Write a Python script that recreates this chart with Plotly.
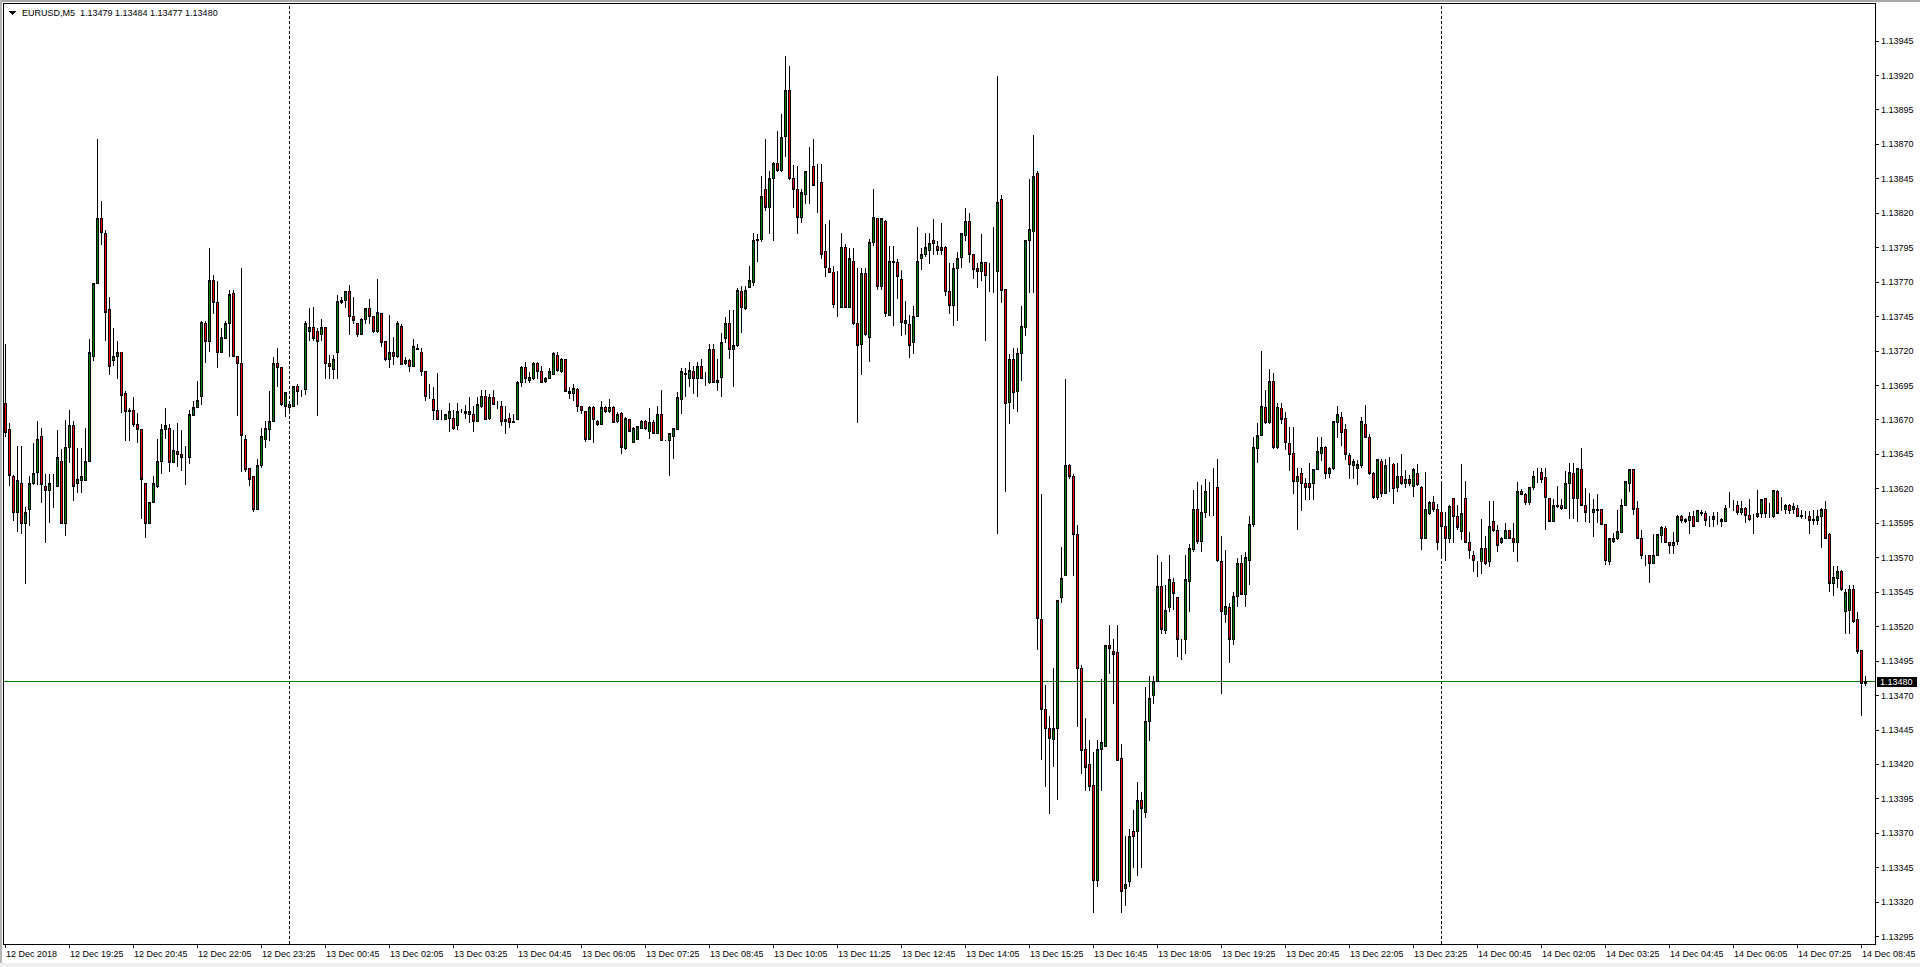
import plotly.graph_objects as go

# ---------------- data (prices in points, 1 point = 0.00001) ----------------
open_pts = [
113682,113663,113629,113603,113624,113595,113605,113624,113632,113658,
113622,113619,113622,113622,113640,113595,113650,113666,113624,113626,
113626,113640,113716,113769,113816,113805,113750,113713,113716,113719,
113689,113677,113677,113667,113663,113624,113595,113610,113622,113640,
113663,113664,113639,113647,113645,113643,113643,113673,113679,113687,
113740,113727,113771,113755,113719,113729,113740,113762,113716,113711,
113656,113635,113629,113605,113637,113656,113663,113669,113711,113708,
113680,113679,113680,113694,113690,113692,113734,113737,113734,113732,
113737,113711,113707,113719,113755,113757,113763,113745,113740,113732,
113743,113751,113745,113734,113747,113727,113714,113719,113716,113738,
113711,113713,113709,113722,113719,113705,113687,113685,113677,113671,
113670,113671,113671,113666,113676,113675,113674,113674,113669,113680,
113687,113671,113686,113680,113680,113669,113671,113668,113670,113697,
113708,113699,113700,113711,113705,113698,113700,113703,113717,113705,
113714,113691,113689,113692,113680,113676,113656,113679,113669,113667,
113679,113676,113679,113669,113675,113649,113670,113654,113656,113664,
113669,113662,113668,113660,113674,113655,113655,113658,113663,113685,
113703,113700,113705,113700,113709,113700,113697,113721,113697,113701,
113729,113740,113721,113724,113763,113751,113766,113770,113800,113801,
113837,113824,113845,113856,113851,113876,113909,113845,113837,113817,
113834,113854,113854,113840,113842,113792,113780,113777,113753,113752,
113795,113752,113785,113740,113725,113776,113730,113799,113816,113767,
113814,113746,113785,113784,113772,113740,113739,113726,113745,113787,
113790,113793,113800,113796,113795,113795,113763,113753,113780,113788,
113804,113814,113790,113780,113778,113784,113777,113778,113778,113830,
113765,113683,113714,113691,113718,113737,113800,113807,113849,113525,
113460,113446,113438,113446,113541,113557,113637,113629,113587,113490,
113431,113420,113405,113336,113431,113433,113506,113502,113501,113424,
113330,113335,113371,113371,113394,113385,113451,113470,113480,113549,
113517,113534,113552,113541,113511,113511,113553,113576,113605,113582,
113603,113619,113621,113621,113567,113529,113534,113511,113542,113566,
113543,113568,113594,113649,113659,113679,113668,113698,113650,113678,
113671,113653,113646,113625,113631,113624,113624,113624,113634,113646,
113650,113631,113635,113668,113672,113663,113644,113637,113635,113637,
113667,113657,113631,113614,113640,113617,113639,113638,113621,113629,
113624,113627,113622,113631,113621,113584,113602,113610,113605,113603,
113593,113584,113613,113600,113589,113613,113581,113572,113567,113567,
113577,113567,113596,113590,113581,113584,113590,113584,113581,113618,
113616,113610,113621,113632,113632,113628,113613,113596,113607,113608,
113606,113624,113631,113613,113634,113608,113604,113603,113605,113605,
113594,113567,113582,113584,113588,113608,113624,113634,113606,113584,
113572,113572,113566,113572,113586,113591,113581,113579,113582,113600,
113596,113597,113600,113596,113602,113602,113598,113598,113598,113598,
113596,113608,113608,113608,113603,113606,113601,113600,113600,113602,
113613,113601,113600,113618,113605,113605,113608,113605,113606,113601,
113599,113600,113597,113597,113600,113605,113587,113551,113555,113560,
113531,113532,113547,113525,113503,113479]

high_pts = [
113725,113668,113630,113651,113651,113607,113629,113653,113669,113664,
113631,113631,113631,113663,113649,113670,113677,113669,113650,113650,
113664,113729,113769,113874,113829,113808,113759,113737,113727,113719,
113691,113679,113687,113675,113663,113624,113610,113629,113656,113667,
113679,113667,113663,113668,113663,113651,113677,113684,113698,113742,
113742,113795,113775,113771,113737,113742,113764,113764,113716,113780,
113659,113635,113629,113642,113664,113669,113691,113716,113722,113708,
113690,113681,113695,113696,113692,113742,113751,113752,113737,113743,
113737,113717,113717,113761,113759,113763,113768,113759,113740,113744,
113751,113758,113745,113772,113748,113727,113746,113730,113742,113740,
113716,113714,113729,113725,113722,113705,113696,113694,113704,113677,
113674,113682,113677,113682,113678,113681,113687,113680,113687,113692,
113692,113689,113692,113684,113684,113680,113675,113674,113698,113709,
113712,113705,113712,113712,113709,113701,113708,113719,113719,113715,
113714,113694,113696,113693,113680,113676,113680,113680,113670,113684,
113680,113685,113680,113676,113676,113672,113671,113665,113666,113670,
113670,113679,113670,113680,113692,113655,113660,113664,113690,113708,
113708,113712,113709,113712,113714,113705,113725,113725,113714,113733,
113745,113750,113750,113766,113767,113767,113782,113806,113805,113847,
113874,113851,113857,113880,113892,113934,113927,113855,113854,113838,
113851,113868,113874,113856,113856,113812,113815,113782,113778,113806,
113798,113795,113795,113780,113780,113780,113801,113838,113816,113816,
113815,113796,113796,113787,113779,113756,113746,113753,113810,113795,
113806,113806,113816,113800,113813,113796,113784,113784,113792,113806,
113824,113820,113790,113784,113805,113784,113784,113810,113920,113833,
113765,113718,113722,113722,113753,113800,113845,113877,113851,113616,
113478,113455,113490,113539,113578,113700,113638,113631,113594,113492,
113454,113438,113429,113438,113482,113506,113521,113511,113521,113435,
113368,113373,113387,113407,113400,113476,113484,113484,113572,113567,
113550,113572,113555,113541,113511,113572,113580,113619,113625,113623,
113627,113625,113635,113642,113586,113576,113537,113545,113570,113572,
113574,113600,113658,113668,113720,113692,113707,113704,113682,113682,
113676,113665,113665,113635,113635,113628,113639,113634,113658,113658,
113651,113636,113669,113680,113676,113667,113646,113642,113641,113672,
113681,113660,113632,113642,113642,113642,113643,113639,113639,113645,
113634,113630,113635,113638,113622,113632,113611,113615,113609,113624,
113603,113608,113613,113608,113638,113626,113589,113575,113568,113598,
113586,113611,113611,113594,113585,113595,113590,113595,113625,113620,
113617,113621,113633,113635,113635,113635,113613,113613,113622,113613,
113633,113639,113639,113635,113650,113621,113617,113613,113616,113605,
113594,113584,113588,113605,113613,113626,113634,113634,113611,113590,
113572,113572,113587,113587,113593,113593,113581,113589,113601,113601,
113599,113603,113604,113605,113605,113604,113600,113603,113603,113599,
113608,113618,113612,113611,113611,113607,113613,113602,113619,113613,
113613,113610,113619,113619,113614,113609,113609,113610,113608,113605,
113604,113604,113605,113605,113606,113611,113588,113564,113564,113561,
113547,113550,113550,113531,113503,113484]

low_pts = [
113658,113622,113597,113589,113587,113551,113593,113623,113623,113610,
113581,113595,113606,113622,113595,113586,113639,113611,113617,113617,
113626,113640,113713,113769,113797,113727,113703,113709,113700,113675,
113655,113655,113665,113653,113598,113584,113595,113610,113621,113631,
113656,113632,113639,113636,113633,113623,113638,113673,113679,113681,
113711,113719,113747,113708,113719,113729,113716,113716,113673,113632,
113632,113622,113603,113605,113635,113650,113655,113669,113694,113680,
113672,113674,113680,113681,113687,113688,113727,113727,113673,113727,
113700,113700,113700,113700,113754,113751,113732,113740,113730,113732,
113740,113740,113733,113733,113723,113713,113708,113710,113715,113710,
113710,113705,113709,113721,113702,113684,113685,113670,113670,113670,
113670,113661,113663,113663,113675,113671,113668,113661,113669,113679,
113670,113670,113681,113678,113666,113660,113664,113668,113670,113694,
113697,113697,113699,113700,113697,113697,113700,113703,113705,113704,
113690,113685,113684,113676,113674,113654,113656,113653,113666,113667,
113675,113675,113668,113668,113645,113648,113661,113653,113656,113664,
113663,113656,113660,113660,113655,113655,113629,113642,113663,113674,
113687,113694,113689,113687,113700,113695,113696,113697,113691,113687,
113726,113714,113694,113723,113733,113750,113766,113767,113785,113799,
113822,113805,113800,113850,113850,113861,113844,113824,113805,113813,
113827,113827,113840,113820,113787,113774,113777,113751,113745,113751,
113751,113752,113739,113668,113703,113731,113712,113796,113764,113764,
113745,113746,113738,113758,113731,113732,113715,113718,113745,113779,
113788,113783,113790,113790,113790,113760,113747,113738,113742,113780,
113800,113784,113772,113766,113771,113727,113763,113762,113587,113755,
113618,113667,113678,113676,113698,113731,113762,113762,113503,113423,
113404,113384,113418,113394,113537,113557,113627,113557,113447,113413,
113401,113401,113312,113331,113401,113433,113486,113464,113423,113312,
113317,113331,113345,113339,113345,113381,113437,113464,113480,113515,
113515,113531,113532,113498,113496,113500,113531,113574,113580,113574,
113599,113600,113600,113567,113471,113523,113494,113507,113534,113543,
113534,113550,113592,113639,113659,113667,113667,113649,113649,113667,
113648,113633,113616,113590,113604,113612,113612,113612,113634,113640,
113627,113628,113634,113657,113651,113641,113627,113627,113623,113635,
113657,113630,113613,113612,113614,113616,113618,113609,113618,113623,
113621,113622,113614,113622,113576,113584,113601,113603,113576,113570,
113568,113581,113581,113590,113583,113581,113569,113560,113556,113558,
113565,113563,113589,113574,113580,113584,113584,113574,113567,113616,
113608,113608,113619,113624,113624,113590,113596,113596,113606,113605,
113606,113598,113598,113596,113608,113596,113595,113585,113595,113594,
113565,113565,113581,113583,113588,113608,113618,113601,113584,113569,
113564,113552,113566,113571,113581,113581,113573,113573,113579,113595,
113595,113587,113592,113596,113600,113593,113592,113592,113594,113592,
113596,113606,113604,113601,113601,113595,113597,113587,113599,113599,
113599,113599,113599,113602,113604,113602,113602,113602,113600,113598,
113598,113587,113594,113594,113577,113584,113545,113542,113548,113546,
113515,113515,113523,113500,113455,113477]

close_pts = [
113661,113630,113603,113626,113595,113603,113624,113631,113656,113623,
113619,113624,113622,113643,113595,113650,113666,113622,113627,113629,
113640,113719,113769,113816,113806,113748,113709,113716,113719,113688,
113676,113676,113667,113663,113627,113595,113610,113624,113640,113663,
113666,113639,113648,113645,113643,113643,113674,113679,113684,113741,
113727,113771,113755,113719,113730,113740,113761,113716,113711,113659,
113634,113627,113605,113637,113658,113664,113669,113711,113708,113681,
113690,113681,113694,113691,113690,113740,113737,113729,113727,113737,
113711,113709,113714,113756,113757,113763,113745,113742,113732,113743,
113751,113745,113734,113748,113726,113714,113719,113716,113740,113710,
113713,113709,113723,113721,113705,113687,113687,113677,113670,113671,
113674,113676,113664,113676,113676,113676,113676,113669,113681,113687,
113670,113686,113681,113680,113669,113670,113668,113669,113697,113708,
113700,113701,113711,113705,113697,113700,113705,113718,113706,113714,
113691,113689,113693,113680,113677,113656,113679,113670,113667,113679,
113676,113679,113668,113674,113650,113671,113662,113664,113665,113669,
113664,113668,113660,113674,113655,113655,113660,113664,113686,113705,
113704,113706,113700,113709,113700,113700,113721,113697,113699,113726,
113740,113721,113724,113764,113752,113764,113771,113800,113801,113832,
113824,113845,113856,113851,113875,113909,113845,113837,113817,113835,
113850,113854,113840,113840,113790,113781,113777,113754,113753,113795,
113752,113787,113740,113724,113776,113732,113799,113817,113767,113816,
113747,113785,113784,113774,113741,113742,113724,113745,113785,113790,
113795,113798,113798,113793,113793,113763,113753,113780,113787,113805,
113814,113790,113779,113778,113784,113775,113777,113778,113828,113764,
113682,113714,113690,113718,113738,113800,113808,113847,113526,113460,
113446,113439,113446,113539,113555,113637,113629,113587,113490,113430,
113418,113404,113336,113431,113436,113506,113504,113500,113423,113328,
113333,113368,113368,113394,113388,113451,113468,113480,113549,113518,
113532,113554,113544,113511,113511,113554,113577,113605,113582,113603,
113618,113619,113621,113568,113531,113535,113511,113542,113566,113543,
113570,113594,113650,113659,113680,113668,113698,113650,113679,113670,
113654,113645,113625,113629,113624,113621,113621,113634,113647,113650,
113631,113635,113669,113674,113661,113645,113638,113640,113638,113669,
113657,113631,113614,113641,113617,113637,113639,113620,113629,113624,
113627,113624,113634,113623,113584,113605,113610,113605,113581,113593,
113584,113607,113600,113592,113602,113581,113575,113568,113567,113577,
113566,113593,113590,113579,113584,113590,113584,113581,113618,113616,
113610,113621,113629,113632,113627,113614,113596,113608,113608,113606,
113624,113632,113613,113635,113608,113603,113604,113605,113604,113594,
113568,113584,113584,113589,113608,113625,113634,113605,113584,113572,
113572,113566,113572,113587,113592,113581,113579,113581,113600,113597,
113598,113600,113593,113604,113603,113597,113598,113600,113598,113596,
113606,113608,113608,113603,113606,113601,113598,113600,113602,113612,
113602,113601,113619,113602,113605,113608,113604,113607,113600,113600,
113599,113597,113598,113600,113605,113584,113551,113556,113560,113547,
113545,113547,113524,113502,113479,113480]

time_labels = [
    "12 Dec 2018", "12 Dec 19:25", "12 Dec 20:45", "12 Dec 22:05", "12 Dec 23:25",
    "13 Dec 00:45", "13 Dec 02:05", "13 Dec 03:25", "13 Dec 04:45", "13 Dec 06:05",
    "13 Dec 07:25", "13 Dec 08:45", "13 Dec 10:05", "13 Dec 11:25", "13 Dec 12:45",
    "13 Dec 14:05", "13 Dec 15:25", "13 Dec 16:45", "13 Dec 18:05", "13 Dec 19:25",
    "13 Dec 20:45", "13 Dec 22:05", "13 Dec 23:25", "14 Dec 00:45", "14 Dec 02:05",
    "14 Dec 03:25", "14 Dec 04:45", "14 Dec 06:05", "14 Dec 07:25", "14 Dec 08:45"]
time_label_step = 16          # one label every 16 bars (80 minutes)

price_labels = [
    "1.13945", "1.13920", "1.13895", "1.13870", "1.13845", "1.13820", "1.13795",
    "1.13770", "1.13745", "1.13720", "1.13695", "1.13670", "1.13645", "1.13620",
    "1.13595", "1.13570", "1.13545", "1.13520", "1.13495", "1.13470", "1.13445",
    "1.13420", "1.13395", "1.13370", "1.13345", "1.13320", "1.13295"]

bid_label = "1.13480"
header_text = "EURUSD,M5  1.13479 1.13484 1.13477 1.13480"
day_separator_bars = [71, 359]   # 13 Dec 00:00 and 14 Dec 00:00

# ---------------- layout geometry (pixels) ----------------
W, HH = 1920, 967
PL, PR, PT, PB = 4, 1875, 4, 944
FONT = "Liberation Sans"
BAR_PX = 4.0                       # pixels per 5-minute bar
X0 = -0.375                        # so that candle centres fall on pixel centres


def px(x):
    return (x - PL) / (PR - PL)


def py(y):
    return (PB - y) / (PB - PT)


P = 1e5
o = [v / P for v in open_pts]
h = [v / P for v in high_pts]
l = [v / P for v in low_pts]
c = [v / P for v in close_pts]
bars = list(range(len(c)))
bid = float(bid_label)

fig = go.Figure()
fig.add_trace(go.Candlestick(
    x=bars, open=o, high=h, low=l, close=c,
    increasing=dict(fillcolor="#008000", line=dict(color="black", width=1)),
    decreasing=dict(fillcolor="#ff0000", line=dict(color="black", width=1)),
    whiskerwidth=0, hoverinfo="skip", showlegend=False))

tickbars = list(range(0, len(c), time_label_step))
price_vals = [float(s) for s in price_labels]

fig.update_layout(
    width=W, height=HH,
    margin=dict(l=PL, r=W - PR, t=PT, b=HH - PB, pad=0),
    paper_bgcolor="white", plot_bgcolor="white",
    boxgap=0.5, showlegend=False, hovermode=False,
    xaxis=dict(range=[X0, X0 + (PR - PL) / BAR_PX], showgrid=False, zeroline=False,
               rangeslider=dict(visible=False), showline=True, mirror=True,
               linecolor="black", linewidth=1, tickmode="array", tickvals=tickbars,
               ticks="outside", ticklen=3, tickcolor="black", tickwidth=1,
               showticklabels=False, fixedrange=True),
    yaxis=dict(range=[1.132897, 1.139719], side="right", showgrid=False, zeroline=False,
               showline=True, mirror=True, linecolor="black", linewidth=1,
               tickmode="array", tickvals=price_vals, ticks="outside", ticklen=3,
               tickcolor="black", tickwidth=1, showticklabels=False, fixedrange=True),
)

shapes = []
# day separators
for b in day_separator_bars:
    shapes.append(dict(type="line", xref="x", yref="paper", x0=b, x1=b, y0=0, y1=1,
                       line=dict(color="black", width=1, dash="3px,2px"), layer="below"))
# bid line
shapes.append(dict(type="line", xref="paper", yref="y", x0=0, x1=1, y0=bid, y1=bid,
                   line=dict(color="#008000", width=1), layer="below"))
# bid box on the price scale
shapes.append(dict(type="rect", xref="paper", yref="paper", x0=px(1877), x1=px(1917),
                   y0=py(686.5), y1=py(676.5), fillcolor="black", line=dict(width=0)))
# header triangle
shapes.append(dict(type="path", xref="paper", yref="paper",
                   path="M %f,%f L %f,%f L %f,%f Z" % (px(9), py(11), px(16), py(11), px(12.5), py(15)),
                   fillcolor="black", line=dict(width=0)))
# window frame
shapes.append(dict(type="rect", xref="paper", yref="paper", x0=px(0), x1=px(W),
                   y0=py(2), y1=py(0), fillcolor="#a8a8a8", line=dict(width=0)))
shapes.append(dict(type="rect", xref="paper", yref="paper", x0=px(0), x1=px(2),
                   y0=py(HH), y1=py(0), fillcolor="#b4b4b4", line=dict(width=0)))
shapes.append(dict(type="rect", xref="paper", yref="paper", x0=px(0), x1=px(W),
                   y0=py(HH), y1=py(963), fillcolor="#f0f0f0", line=dict(width=0)))
fig.update_layout(shapes=shapes)

ann = []
ann.append(dict(text=header_text, xref="paper", yref="paper", x=px(20), y=py(13),
                xanchor="left", yanchor="middle", showarrow=False,
                font=dict(family=FONT, size=9, color="black")))
for k, lab in enumerate(time_labels):
    ann.append(dict(text=lab, xref="x", yref="paper", x=tickbars[k], y=py(954),
                    xanchor="left", yanchor="middle", xshift=-2, showarrow=False,
                    font=dict(family=FONT, size=9, color="black")))
for s, v in zip(price_labels, price_vals):
    ann.append(dict(text=s, xref="paper", yref="y", x=px(1881), y=v,
                    xanchor="left", yanchor="middle", xshift=-2, showarrow=False,
                    font=dict(family=FONT, size=9, color="black")))
ann.append(dict(text=bid_label, xref="paper", yref="y", x=px(1880), y=bid,
                xanchor="left", yanchor="middle", xshift=-2, showarrow=False,
                font=dict(family=FONT, size=9, color="white")))
fig.update_layout(annotations=ann)

post = """
document.body.style.margin='0';
document.body.style.overflow='hidden';
var st=document.createElement('style');
st.innerHTML='.cartesianlayer path, .shapelayer path, .layer-below path, .layer-above path{shape-rendering:crispEdges}';
document.head.appendChild(st);
"""
fig.write_html("out.html", config={"displayModeBar": False, "staticPlot": True},
               post_script=post)
